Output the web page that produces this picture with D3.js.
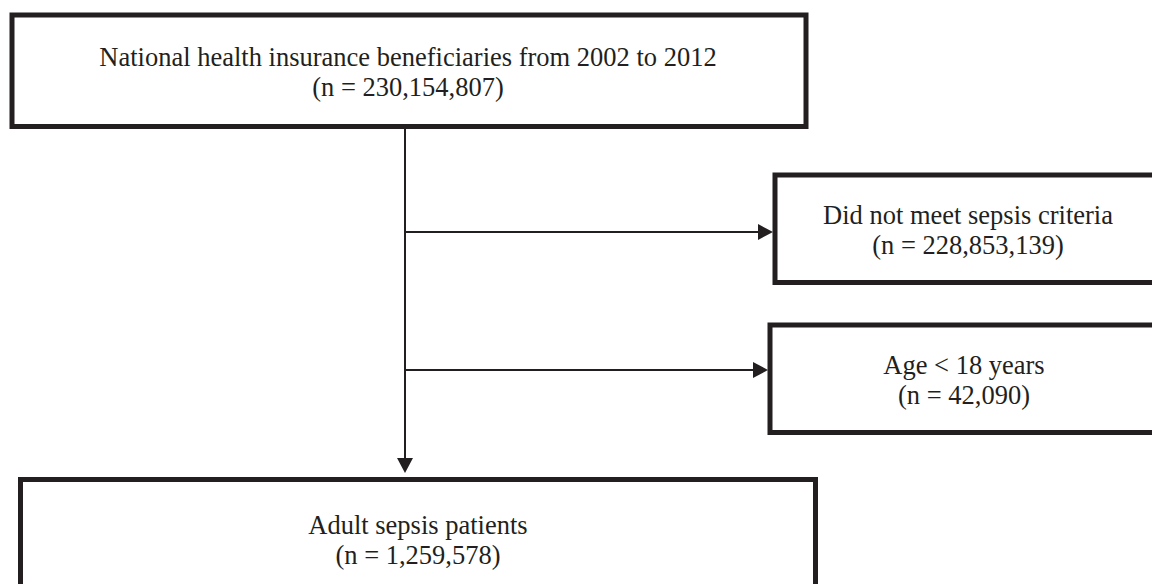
<!DOCTYPE html>
<html lang="en">
<head>
    <meta charset="UTF-8">
    <title>Sepsis cohort flowchart</title>
    <script src="https://cdn.jsdelivr.net/npm/d3@7"></script>
    <style>
        html, body { margin: 0; padding: 0; background: #fff; }
        svg { display: block; }
        text { font-family: "Liberation Serif", "Times New Roman", serif; fill: #231f20; }
    </style>
</head>
<body>
    <svg width="1152" height="584"></svg>
    <script>
        // flowchart content
        const labels = [
            'National health insurance beneficiaries from 2002 to 2012',
            'Did not meet sepsis criteria',
            'Age < 18 years',
            'Adult sepsis patients'
        ];
        const counts = ['230,154,807', '228,853,139', '42,090', '1,259,578'];

        // box geometry (x0, y0, x1, y1) - centre of the stroke
        const boxes = [
            [12, 15, 806, 126.5],
            [775, 175, 1165, 282.5],
            [770, 325, 1165, 432.5],
            [20.5, 479.5, 815.5, 600]
        ];
        // where the text block sits (centre x, first baseline)
        const textPos = [
            [408, 66],
            [968, 224],
            [964, 374],
            [418, 534]
        ];
        const lineGap = 30;
        const ink = '#231f20';

        const svg = d3.select('svg');

        const nodes = labels.map((d, i) => ({ label: d, n: counts[i], box: boxes[i], t: textPos[i] }));

        svg.selectAll('rect.box')
            .data(nodes)
            .enter()
            .append('rect')
            .attr('class', 'box')
            .attr('x', d => d.box[0])
            .attr('y', d => d.box[1])
            .attr('width', d => d.box[2] - d.box[0])
            .attr('height', d => d.box[3] - d.box[1])
            .attr('fill', 'none')
            .attr('stroke', ink)
            .attr('stroke-width', 5);

        const txt = svg.selectAll('text.lbl')
            .data(nodes)
            .enter()
            .append('text')
            .attr('class', 'lbl')
            .attr('text-anchor', 'middle')
            .attr('font-size', 26.5);
        txt.append('tspan')
            .attr('x', d => d.t[0])
            .attr('y', d => d.t[1])
            .text(d => d.label);
        txt.append('tspan')
            .attr('x', d => d.t[0])
            .attr('y', d => d.t[1] + lineGap)
            .text(d => '(n = ' + d.n + ')');

        // connectors
        const spineX = 405;
        const branchY = [232, 370];
        const line = d3.line();

        svg.append('path')
            .attr('d', line([[spineX, boxes[0][3] + 2.5], [spineX, 460]]))
            .attr('stroke', ink).attr('stroke-width', 2).attr('fill', 'none');
        svg.append('path')
            .attr('d', line([[spineX - 8, 458], [spineX + 8, 458], [spineX, 473]]) + 'Z')
            .attr('fill', ink);

        branchY.forEach((y, i) => {
            const tipX = boxes[i + 1][0] - 2;
            svg.append('path')
                .attr('d', line([[spineX, y], [tipX - 14, y]]))
                .attr('stroke', ink).attr('stroke-width', 2).attr('fill', 'none');
            svg.append('path')
                .attr('d', line([[tipX - 15, y - 8], [tipX - 15, y + 8], [tipX, y]]) + 'Z')
                .attr('fill', ink);
        });
    </script>
</body>
</html>
